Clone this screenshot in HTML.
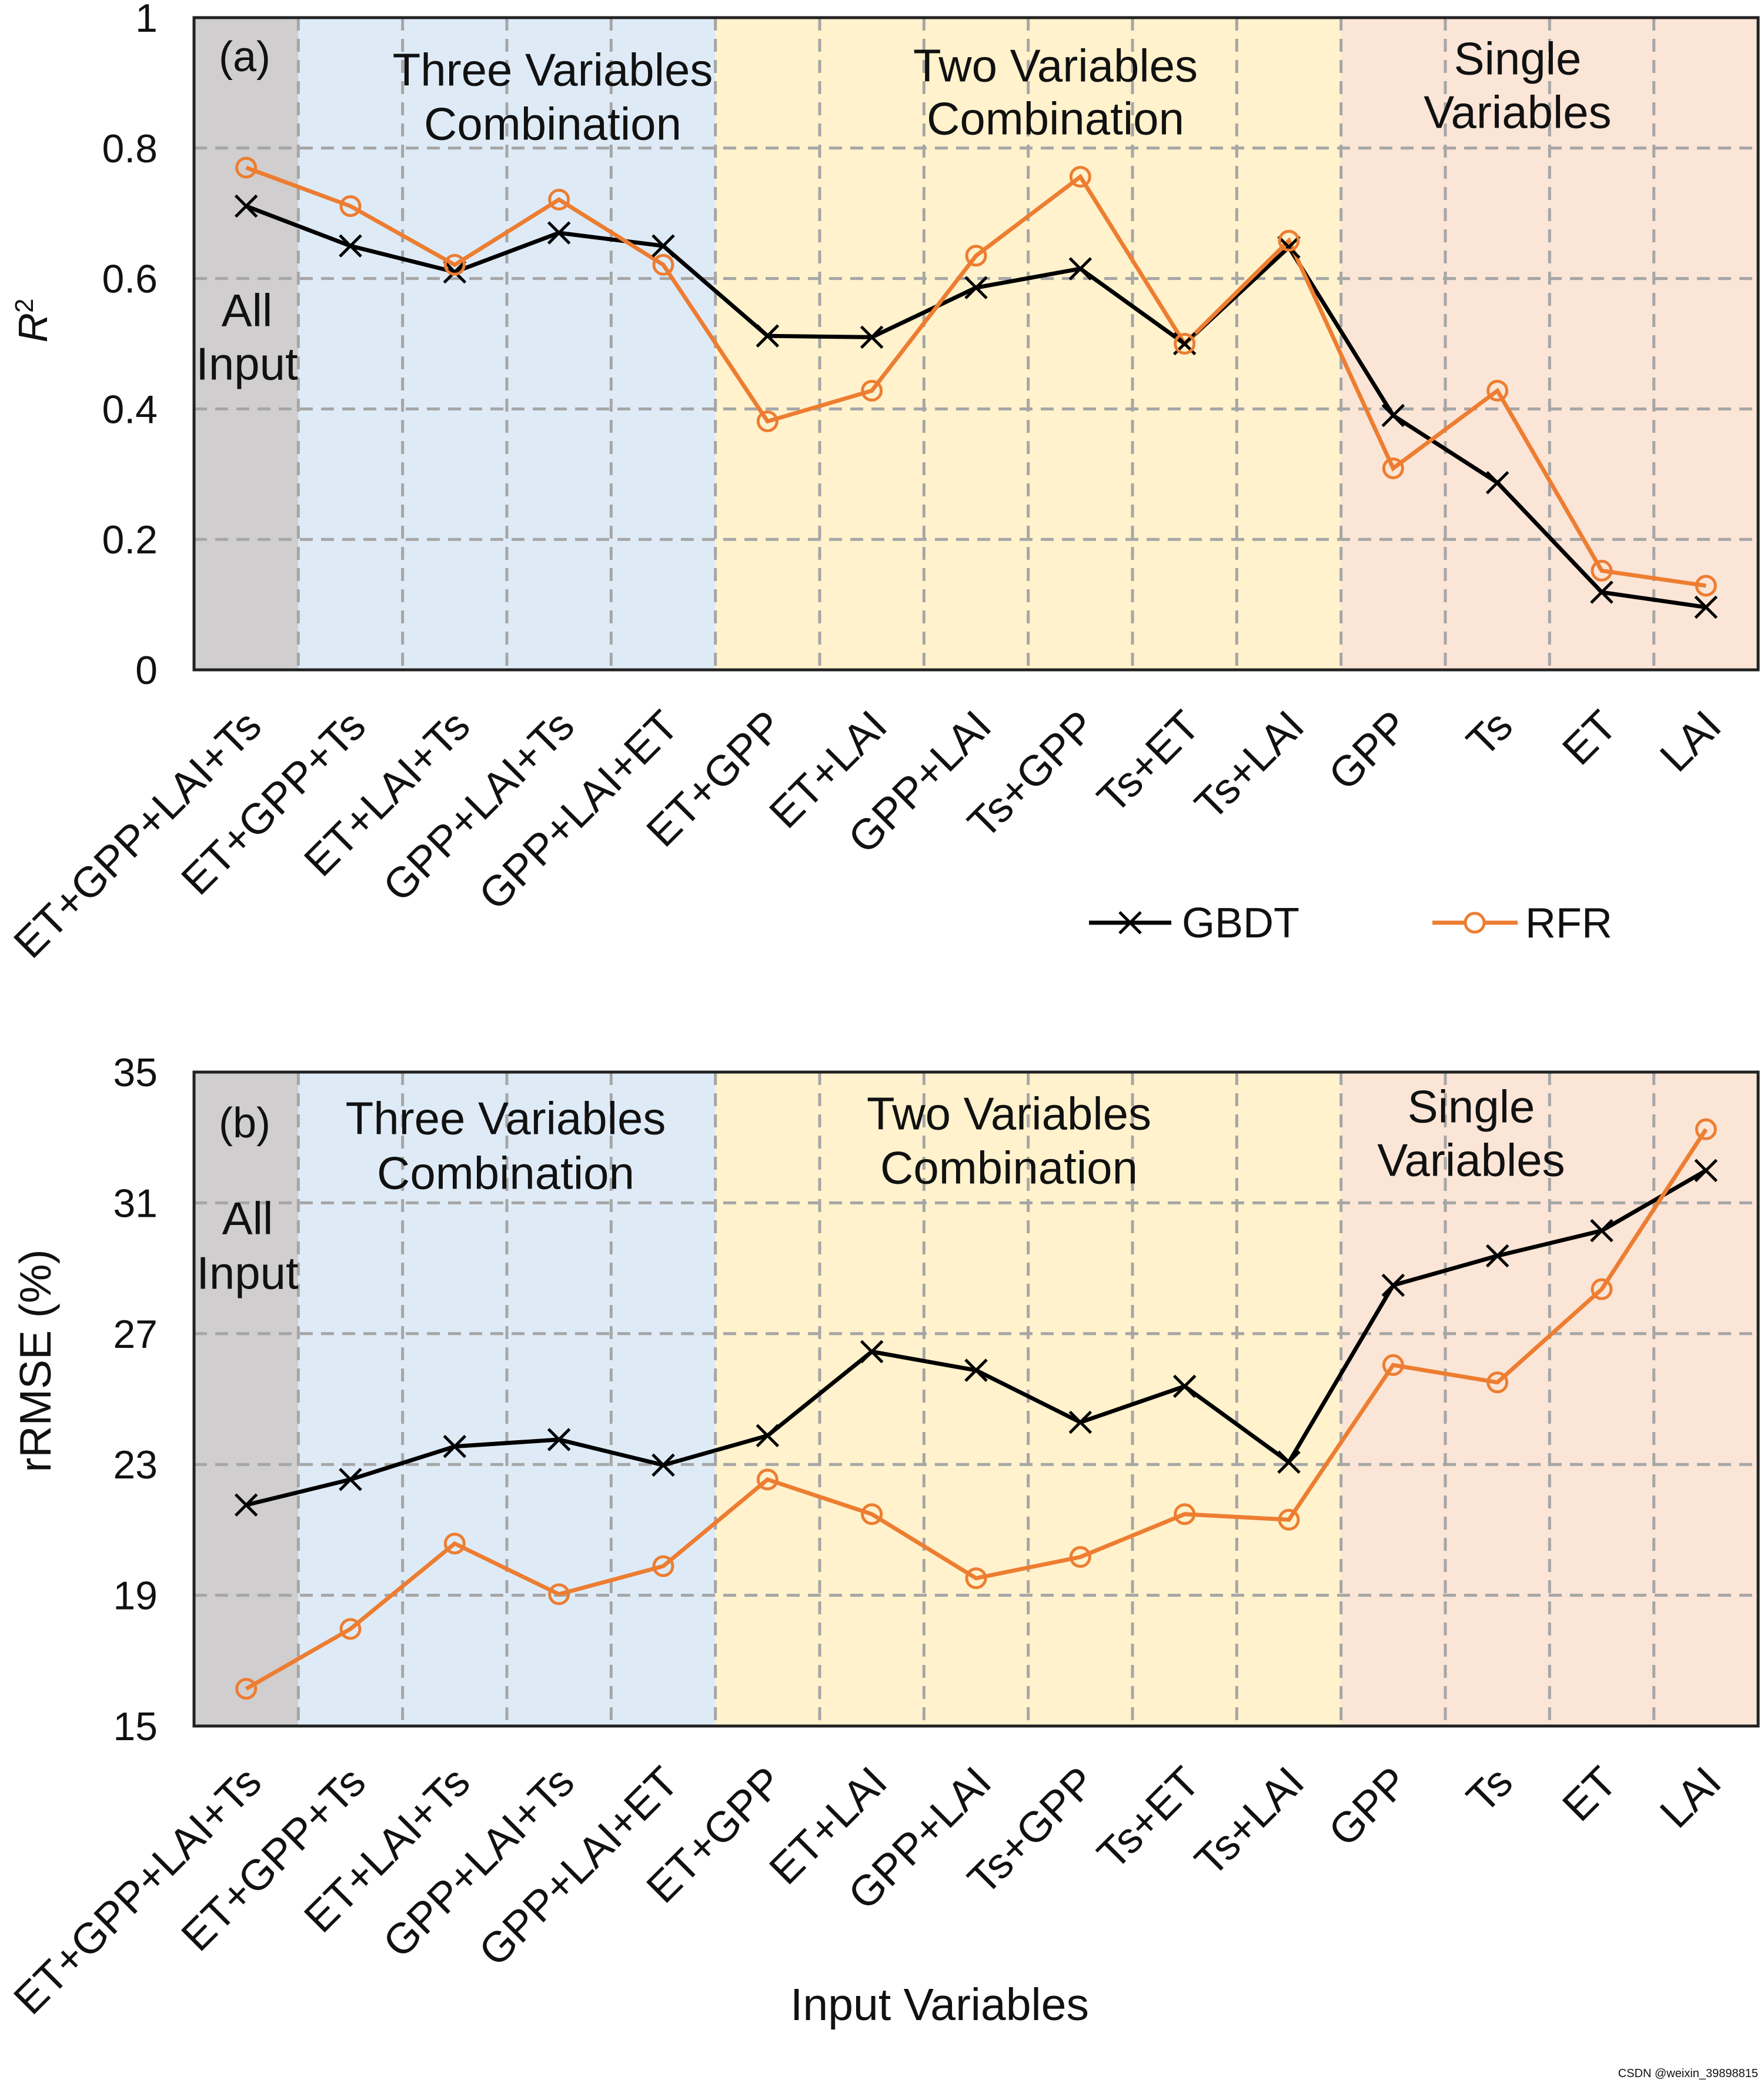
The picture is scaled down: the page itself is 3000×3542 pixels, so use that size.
<!DOCTYPE html>
<html><head><meta charset="utf-8"><style>
html,body{margin:0;padding:0;background:#fff}
svg{display:block}
text{font-family:"Liberation Sans",sans-serif;fill:#111}
</style></head><body>
<svg id="chart" width="3000" height="3542" viewBox="0 0 3000 3542" xmlns="http://www.w3.org/2000/svg"></svg>
<script>
const categories = ["ET+GPP+LAI+Ts","ET+GPP+Ts","ET+LAI+Ts","GPP+LAI+Ts","GPP+LAI+ET","ET+GPP","ET+LAI","GPP+LAI","Ts+GPP","Ts+ET","Ts+LAI","GPP","Ts","ET","LAI"];
const r2Gbdt = [0.711,0.65,0.61,0.67,0.65,0.512,0.51,0.586,0.615,0.5,0.648,0.39,0.287,0.119,0.096];
const r2Rfr = [0.77,0.711,0.621,0.721,0.621,0.381,0.428,0.635,0.756,0.5,0.658,0.309,0.428,0.152,0.129];
const rmseGbdt = [21.76,22.54,23.55,23.76,22.98,23.88,26.45,25.88,24.29,25.39,23.07,28.48,29.38,30.15,31.99];
const rmseRfr = [16.14,17.97,20.58,19.03,19.89,22.54,21.48,19.52,20.17,21.48,21.31,26.04,25.51,28.36,33.25];
const r2Ticks = [0,0.2,0.4,0.6,0.8,1];
const r2TickLabels = ["0","0.2","0.4","0.6","0.8","1"];
const rmseTicks = [15,19,23,27,31,35];
const rmseTickLabels = ["15","19","23","27","31","35"];
const groupSpans = [[0,1],[1,5],[5,11],[11,15]];

const NS="http://www.w3.org/2000/svg";
const svg=document.getElementById('chart');
function el(tag,attrs,parent,txt){const e=document.createElementNS(NS,tag);for(const k in attrs)e.setAttribute(k,attrs[k]);if(txt!==undefined)e.textContent=txt;(parent||svg).appendChild(e);return e;}
const X0=330,X1=2990,N=categories.length,CW=(X1-X0)/N;
const xAt=i=>X0+CW*(i+0.5);
const bgCols=["#d0cece","#deebf7","#fff2cc","#fbe5d6"];
const ORANGE="#ed7d31";

function panel(name,top,bottom,ymin,ymax,ticks,tickLabels,gb,rf,labelPos){
  const g=el('g',{});
  
  
  const yAt=v=>bottom-(v-ymin)/(ymax-ymin)*(bottom-top);
  groupSpans.forEach((s,k)=>{
    const r=el('rect',{x:X0+s[0]*CW,y:top,width:(s[1]-s[0])*CW,height:bottom-top,fill:bgCols[k]},g);
    
    
  });
  for(let i=1;i<N;i++){
    const l=el('line',{x1:X0+i*CW,x2:X0+i*CW,y1:top,y2:bottom,stroke:"#a6a6a6","stroke-width":5,"stroke-dasharray":"22 14"},g);
    
    
  }
  ticks.forEach((t,i)=>{
    const y=yAt(t);
    if(i>0&&i<ticks.length-1){
      const l=el('line',{x1:X0,x2:X1,y1:y,y2:y,stroke:"#a6a6a6","stroke-width":5,"stroke-dasharray":"22 14"},g);
      
      
    }
    const tx=el('text',{x:268,y:y+24,"text-anchor":"end","font-size":68},g,tickLabels[i]);
    
    
  });
  const fr=el('rect',{x:X0,y:top,width:X1-X0,height:bottom-top,fill:"none",stroke:"#222","stroke-width":5},g);
  
  
  const pg=el('polyline',{points:gb.map((v,i)=>xAt(i)+","+yAt(v)).join(" "),fill:"none",stroke:"#000","stroke-width":7},g);
  
  
  const pr=el('polyline',{points:rf.map((v,i)=>xAt(i)+","+yAt(v)).join(" "),fill:"none",stroke:ORANGE,"stroke-width":7},g);
  
  
  gb.forEach((v,i)=>{
    const x=xAt(i),y=yAt(v),s=18;
    const m=el('path',{d:`M${x-s} ${y-s}L${x+s} ${y+s}M${x-s} ${y+s}L${x+s} ${y-s}`,stroke:"#000","stroke-width":5,fill:"none"},g);
    
    
  });
  rf.forEach((v,i)=>{
    const c=el('circle',{cx:xAt(i),cy:yAt(v),r:16,fill:"none",stroke:ORANGE,"stroke-width":5},g);
    
    
  });
  categories.forEach((c,i)=>{
    const ax=xAt(i)+30,ay=bottom+100;
    const t=el('text',{x:ax,y:ay,"text-anchor":"end","font-size":73,transform:`rotate(-45 ${ax} ${ay})`},g,c);
    
    
  });
  labelPos.forEach(p=>{
    const t=el('text',{x:p[0],y:p[1],"text-anchor":"middle","dominant-baseline":"middle","font-size":p[3]||78},g,p[2]);
    
    
  });
}
panel('r2-panel',30,1139,0,1,r2Ticks,r2TickLabels,r2Gbdt,r2Rfr,[
 [416,102,"(a)",72],[940,125,"Three Variables"],[940,217,"Combination"],
 [1795,118,"Two Variables"],[1795,208,"Combination"],
 [2581,106,"Single"],[2581,197,"Variables"],
 [420,534,"All"],[420,625,"Input"]]);
panel('rmse-panel',1823,2935,15,35,rmseTicks,rmseTickLabels,rmseGbdt,rmseRfr,[
 [416,1915,"(b)",72],[860,1908,"Three Variables"],[860,2001,"Combination"],
 [1716,1900,"Two Variables"],[1716,1992,"Combination"],
 [2502,1888,"Single"],[2502,1979,"Variables"],
 [421,2078,"All"],[421,2171,"Input"]]);
</script>
<script>
(function(){
const svg=document.getElementById('chart');
const NS="http://www.w3.org/2000/svg";
function add(tag,attrs,txt){const e=document.createElementNS(NS,tag);for(const k in attrs)e.setAttribute(k,attrs[k]);if(txt!==undefined)e.textContent=txt;svg.appendChild(e);return e;}
const yt=add('text',{x:0,y:0,"font-size":70,"font-style":"italic",transform:"translate(80 545) rotate(-90)","text-anchor":"middle"});


yt.innerHTML='R<tspan dy="-24" font-size="44" font-style="normal">2</tspan>';
const yt2=add('text',{x:0,y:0,"font-size":75,transform:"translate(86 2314) rotate(-90)","text-anchor":"middle"},"rRMSE (%)");


const xt=add('text',{x:1598,y:3435,"font-size":77,"text-anchor":"middle"},"Input Variables");


const l1=add('line',{x1:1852,x2:1992,y1:1569,y2:1569,stroke:"#000","stroke-width":7});


const m1=add('path',{d:"M1904 1551L1940 1587M1904 1587L1940 1551",stroke:"#000","stroke-width":5});


const t1=add('text',{x:2010,y:1594,"font-size":72},"GBDT");


const l2=add('line',{x1:2436,x2:2581,y1:1569,y2:1569,stroke:"#ed7d31","stroke-width":7});


const m2=add('circle',{cx:2508,cy:1569,r:16,fill:"#fff",stroke:"#ed7d31","stroke-width":5});


const t2=add('text',{x:2594,y:1594,"font-size":72},"RFR");


const wm=add('text',{x:2990,y:3532,"font-size":20,"text-anchor":"end",fill:"#999"},"CSDN @weixin_39898815");


})();
</script>
</body></html>
